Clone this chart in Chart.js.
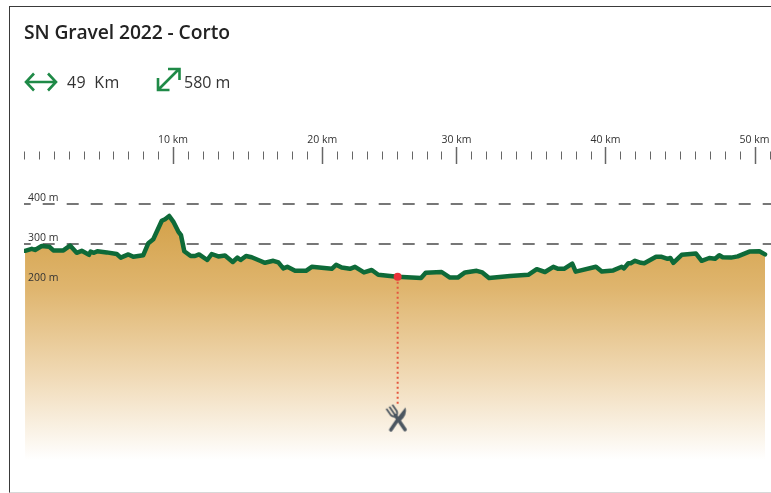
<!DOCTYPE html>
<html>
<head>
<meta charset="utf-8">
<title>SN Gravel 2022 - Corto</title>
<script src="https://cdn.jsdelivr.net/npm/chart.js@4"></script>
<style>
  html, body { margin: 0; padding: 0; background: #fff; }
  body { width: 771px; height: 493px; position: relative; overflow: hidden; font-family: "Open Sans", sans-serif; color: #2b2b2b; }
  #frame { position: absolute; left: 9px; top: 6px; right: -2px; height: 485px; border-top: 1.5px solid #3a3a3a; border-left: 1.5px solid #3a3a3a; border-bottom: 1px solid #d8d8d8; }
  #profile { position: absolute; left: 0; top: 0; }
  #name { position: absolute; left: 24px; top: 19px; font-size: 19.3px; font-weight: 600; line-height: 26px; color: #222; letter-spacing: -0.1px; }
  .stat { position: absolute; top: 71px; font-size: 16px; line-height: 22px; color: #333; }
  .icon { position: absolute; }
</style>
</head>
<body>
<canvas id="profile" width="771" height="493"></canvas>
<div id="frame"></div>
<div id="name">SN Gravel 2022 - Corto</div>
<svg class="icon" style="left:24px;top:70px" width="34" height="24" fill="none" stroke="#1f8a47" stroke-width="2.6">
  <path d="M2 12H32M10 3.5L2 12L10 20.5M24 3.5L32 12L24 20.5"/>
</svg>
<div class="stat" style="left:67px;word-spacing:4px;letter-spacing:0.3px">49 Km</div>
<svg class="icon" style="left:155px;top:66px" width="27" height="27" fill="none" stroke="#1f8a47" stroke-width="2.6">
  <path d="M4 23L24 3M13 3H24.5V14M3 12V24H14.5"/>
</svg>
<div class="stat" style="left:184px">580 m</div>
<script>
// Elevation profile
const distances = [0.07, 0.52, 0.74, 1.19, 1.70, 1.97, 2.64, 3.09, 3.53, 3.87, 4.36, 4.47, 4.69, 4.92, 5.55, 6.22, 6.49, 7.00, 7.33, 8.00,
  8.34, 8.67, 9.24, 9.46, 9.74, 10.01, 10.35, 10.53, 10.75, 11.18, 11.47, 11.74, 12.29, 12.59, 13.03, 13.48, 14.00, 14.31, 14.53, 14.89,
  15.27, 15.83, 16.16, 16.72, 17.06, 17.39, 17.66, 18.18, 18.91, 19.30, 20.64, 20.93, 21.31, 21.86, 22.20, 22.80, 23.32, 23.76, 24.55, 25.06,
  26.63, 26.94, 28.01, 28.57, 29.09, 29.58, 30.36, 30.74, 31.19, 32.60, 33.82, 34.39, 34.94, 35.50, 35.83, 36.22, 36.77, 37.00, 38.36, 38.75,
  39.52, 40.09, 40.24, 40.53, 40.69, 40.98, 41.38, 41.60, 42.39, 42.77, 43.17, 43.35, 43.55, 44.11, 45.07, 45.45, 45.96, 46.35, 46.63, 46.86,
  47.42, 47.87, 48.65, 49.32, 49.70];
const elevations = [283, 288, 285, 295, 293, 284, 284, 296, 278, 283, 273, 281, 278, 282, 279, 275, 266, 274, 268, 272,
  302, 312, 358, 362, 370, 356, 331, 322, 282, 270, 270, 274, 260, 275, 269, 271, 255, 266, 260, 270,
  267, 258, 253, 258, 254, 239, 243, 233, 233, 243, 238, 248, 241, 238, 243, 229, 235, 223, 220, 218,
  215, 228, 230, 216, 216, 229, 233, 229, 215, 220, 223, 237, 230, 243, 238, 238, 251, 231, 243, 231,
  234, 243, 239, 252, 252, 258, 253, 252, 268, 268, 263, 265, 253, 273, 276, 258, 265, 263, 272, 267,
  266, 269, 281, 282, 274];

// Axis ticks (the ruler is quirky: 30 km sits on the 29th mark and so on)
const majorTicks = [10, 20, 29, 39, 49];
const majorLabels = ['10 km', '20 km', '30 km', '40 km', '50 km'];
const minorTickCount = 50;
const elevationTicks = [200, 300, 400];

// Rest stop
const stopDistance = [25.06, 25.06];
const stopElevation = [218, -102];
const iconDistance = [25.06];
const iconElevation = [-137];

const profilePoints = distances.map((d, i) => ({ x: d, y: elevations[i] }));
const stopPoints = stopDistance.map((d, i) => ({ x: d, y: stopElevation[i] }));
const iconPoints = iconDistance.map((d, i) => ({ x: d, y: iconElevation[i] }));

// Crossed fork and knife used as the point style of the stop marker
function makeCutleryIcon() {
  const c = document.createElement('canvas');
  c.width = 28;
  c.height = 30;
  const g = c.getContext('2d');
  g.translate(14, 15);
  g.fillStyle = g.strokeStyle = '#4b5660';
  g.lineCap = 'round';
  g.save();
  g.rotate(0.6);
  g.lineWidth = 3.6;
  g.beginPath(); g.moveTo(0, -14); g.quadraticCurveTo(6, -9, 3.5, 1); g.lineTo(-1, 1); g.closePath(); g.fill();
  g.beginPath(); g.moveTo(0.6, 0); g.lineTo(0.6, 13); g.stroke();
  g.restore();
  g.save();
  g.rotate(-0.6);
  g.lineWidth = 3.6;
  g.beginPath(); g.moveTo(0, -4); g.lineTo(0, 13); g.stroke();
  g.lineWidth = 1.8;
  g.beginPath();
  g.moveTo(-3.6, -14); g.lineTo(-3.6, -7); g.quadraticCurveTo(-3, -4, 0, -3); g.quadraticCurveTo(3, -4, 3.6, -7); g.lineTo(3.6, -14);
  g.moveTo(0, -14); g.lineTo(0, -4);
  g.stroke();
  g.restore();
  return c;
}

// Ruler marks above the plot: short marks every step, long ones at the labels
const rulerPlugin = {
  id: 'ruler',
  afterDraw(chart) {
    const { ctx, scales } = chart;
    const mid = scales.x.bottom - 8.5;
    ctx.save();
    ctx.strokeStyle = '#666';
    for (let i = 0; i <= minorTickCount; i++) {
      const major = majorTicks.includes(i);
      const half = major ? 8.5 : 4;
      const x = Math.round(scales.x.getPixelForValue(i)) + 0.5;
      ctx.lineWidth = major ? 1.5 : 1;
      ctx.beginPath();
      ctx.moveTo(x, mid - half);
      ctx.lineTo(x, mid + half);
      ctx.stroke();
    }
    ctx.restore();
  },
};

function fadeFill(context) {
  const { ctx, chartArea } = context.chart;
  if (!chartArea) return '#d9ab5c';
  const fade = ctx.createLinearGradient(0, 215, 0, chartArea.bottom - 4);
  fade.addColorStop(0, '#d3a149');
  fade.addColorStop(0.3, '#dfb56e');
  fade.addColorStop(0.65, '#f0d9b4');
  fade.addColorStop(1, '#ffffff');
  return fade;
}

new Chart(document.getElementById('profile').getContext('2d'), {
  type: 'line',
  data: {
    datasets: [
      {
        data: iconPoints,
        showLine: false,
        pointStyle: makeCutleryIcon(),
      },
      {
        data: stopPoints,
        borderColor: '#e4573f',
        borderWidth: 2,
        borderDash: [2, 3],
        pointBackgroundColor: '#e8333a',
        pointBorderWidth: 0,
        pointRadius: [4, 0],
      },
      {
        data: profilePoints,
        borderColor: '#0e6a38',
        borderWidth: 4.5,
        borderJoinStyle: 'round',
        borderCapStyle: 'round',
        backgroundColor: fadeFill,
        fill: 'start',
        pointRadius: 0,
        tension: 0,
      },
    ],
  },
  plugins: [rulerPlugin],
  options: {
    responsive: false,
    animation: false,
    events: [],
    layout: { padding: { left: 24, right: 0, top: 123, bottom: 29 }, autoPadding: false },
    plugins: { legend: { display: false }, tooltip: { enabled: false } },
    scales: {
      x: {
        type: 'linear',
        position: 'top',
        min: 0,
        max: 50.1,
        border: { display: false },
        grid: { display: false },
        afterBuildTicks(axis) { axis.ticks = majorTicks.map((value) => ({ value })); },
        afterFit(axis) {
          axis.height = 41;
          axis.paddingLeft = 0;
          axis.paddingRight = 0;
        },
        ticks: {
          autoSkip: false,
          maxRotation: 0,
          padding: 10,
          color: '#333',
          font: { family: 'Open Sans', size: 10.5 },
          callback: (value) => majorLabels[majorTicks.indexOf(value)],
        },
      },
      y: {
        min: -250,
        max: 500,
        border: { display: false, dash: [12, 12], dashOffset: 5.3 },
        grid: {
          color: (c) => (c.tick && c.tick.value === 200 ? 'transparent' : '#777'),
          lineWidth: 2,
          drawTicks: false,
          tickLength: 0,
        },
        afterBuildTicks(axis) { axis.ticks = elevationTicks.map((value) => ({ value })); },
        afterFit(axis) { axis.width = 0; },
        ticks: {
          mirror: true,
          z: 1,
          padding: 4,
          labelOffset: -6,
          color: '#333',
          font: { family: 'Open Sans', size: 10.5 },
          callback: (value) => value + ' m',
        },
      },
    },
  },
});
</script>
</body>
</html>
